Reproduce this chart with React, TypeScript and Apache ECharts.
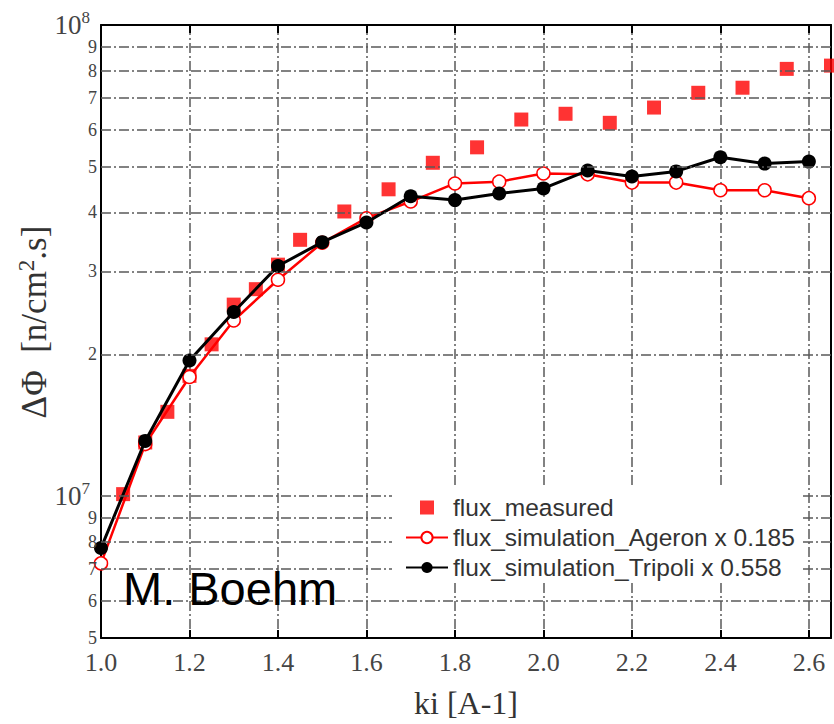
import React, { useEffect, useRef } from "react";
import * as echarts from "echarts";

// ki values for simulations
const kSim = [1.0, 1.1, 1.2, 1.3, 1.4, 1.5, 1.6, 1.7, 1.8, 1.9, 2.0, 2.1, 2.2, 2.3, 2.4, 2.5, 2.6];
const ageron = [7.2e6, 1.29e7, 1.79e7, 2.36e7, 2.88e7, 3.45e7, 3.89e7, 4.22e7, 4.61e7, 4.65e7, 4.84e7, 4.82e7, 4.63e7, 4.63e7, 4.46e7, 4.46e7, 4.29e7];
const tripoli = [7.76e6, 1.31e7, 1.94e7, 2.46e7, 3.08e7, 3.46e7, 3.81e7, 4.33e7, 4.25e7, 4.39e7, 4.5e7, 4.91e7, 4.77e7, 4.89e7, 5.24e7, 5.08e7, 5.13e7];

// measured flux
const kMeasured = [1.05, 1.1, 1.15, 1.2, 1.25, 1.3, 1.35, 1.4, 1.45, 1.55, 1.65, 1.75, 1.85, 1.95, 2.05, 2.15, 2.25, 2.35, 2.45, 2.55, 2.65];
const measured = [1.01e7, 1.3e7, 1.51e7, 1.8e7, 2.1e7, 2.55e7, 2.75e7, 3.1e7, 3.5e7, 4.02e7, 4.48e7, 5.1e7, 5.5e7, 6.3e7, 6.48e7, 6.2e7, 6.68e7, 7.18e7, 7.36e7, 8.07e7, 8.2e7];

// y-axis (log) tick values and labels
const yTickValues = [5e6, 6e6, 7e6, 8e6, 9e6, 1e7, 2e7, 3e7, 4e7, 5e7, 6e7, 7e7, 8e7, 9e7, 1e8];
const yTickLabels = ["5", "6", "7", "8", "9", "{big|10}{sup|7}", "2", "3", "4", "5", "6", "7", "8", "9", "{big|10}{sup|8}"];

const seriesNames = [
  "flux_measured",
  "flux_simulation_Ageron x 0.185",
  "flux_simulation_Tripoli x 0.558",
];

const SERIF = '"Liberation Serif", "Times New Roman", serif';
const SANS = '"Liberation Sans", Arial, Helvetica, sans-serif';
const DASH = [10, 3, 2, 3];

export default function App() {
  const ref = useRef<HTMLDivElement>(null);
  useEffect(() => {
    if (!ref.current) return;
    const chart = echarts.init(ref.current, null, { renderer: "svg" });
    const xMin = 1.0, xMax = 2.65, yMin = 5e6, yMax = 1e8;
    const gridLineStyle = { color: "#5a5a5a", width: 1.5, type: DASH };
    chart.setOption({
      animation: false,
      backgroundColor: "#ffffff",
      grid: { left: 101, right: 3, top: 25, bottom: 84 },
      xAxis: [
        {
          type: "value", min: xMin, max: xMax, interval: 0.2, position: "bottom",
          axisLine: { show: true, lineStyle: { color: "#000", width: 2 } },
          axisTick: { show: true, inside: true, length: 8, lineStyle: { color: "#000", width: 2 } },
          axisLabel: {
            show: true, showMaxLabel: false, margin: 11, fontSize: 26, fontFamily: SERIF, color: "#444",
            formatter: (v: number) => v.toFixed(1),
          },
          splitLine: { show: true, lineStyle: gridLineStyle },
          name: "ki [A-1]", nameLocation: "middle", nameGap: 49,
          nameTextStyle: { fontSize: 32, fontFamily: SERIF, color: "#333" },
        },
        {
          type: "value", min: xMin, max: xMax, interval: 0.2, position: "top",
          axisLine: { show: true, lineStyle: { color: "#000", width: 2 } },
          axisTick: { show: true, inside: true, length: 8, lineStyle: { color: "#000", width: 2 } },
          axisLabel: { show: false }, splitLine: { show: false },
        },
      ],
      yAxis: [
        {
          type: "log", logBase: 10, min: yMin, max: yMax, position: "left",
          axisLine: { show: true, lineStyle: { color: "#000", width: 2 } },
          axisTick: { show: false }, axisLabel: { show: false }, splitLine: { show: false },
        },
        {
          type: "log", logBase: 10, min: yMin, max: yMax, position: "right",
          axisLine: { show: true, lineStyle: { color: "#000", width: 2 } },
          axisTick: { show: false }, axisLabel: { show: false }, splitLine: { show: false },
        },
      ],
      legend: {
        data: [
          { name: seriesNames[0], icon: "path://M0,0L10,0L10,10L0,10Z" },
          { name: seriesNames[1] },
          { name: seriesNames[2] },
        ],
        orient: "vertical",
        left: 400,
        top: 490,
        z: 10,
        itemWidth: 42,
        itemHeight: 14,
        itemGap: 5,
        symbolKeepAspect: true,
        textStyle: { fontSize: 24.5, fontFamily: SANS, color: "#333" },
      },
      graphic: [
        {
          type: "rect", z: 8, silent: true,
          shape: { x: 392, y: 488, width: 408, height: 94 },
          style: { fill: "#ffffff" },
        },
        {
          type: "text", left: 123, top: 565, silent: true, z: 9,
          style: { text: "M. Boehm", fontSize: 47, fontFamily: SANS, fill: "#000" },
        },
        {
          type: "text", x: 34, y: 322, rotation: Math.PI / 2, silent: true,
          style: {
            text: "{a|ΔΦ  [n/cm}{s|2}{a|.s]}",
            align: "center", verticalAlign: "middle",
            rich: {
              a: { fontSize: 35, fontFamily: SERIF, fill: "#333" },
              s: { fontSize: 23, fontFamily: SERIF, fill: "#333", padding: [0, 0, 16, 0] },
            },
          },
        },
      ],
      series: [
        {
          name: "grid", type: "line", data: [], z: 1, silent: true,
          markLine: {
            silent: true, symbol: ["none", "none"], animation: false,
            lineStyle: gridLineStyle,
            label: {
              show: true, position: "start", distance: 4,
              formatter: (p: any) => p.name,
              fontSize: 18, fontFamily: SERIF, color: "#444",
              rich: {
                big: { fontSize: 27, fontFamily: SERIF, color: "#444" },
                sup: { fontSize: 17, fontFamily: SERIF, color: "#444", padding: [0, 0, 16, 0] },
              },
            },
            data: yTickValues.map((v, i) => ({
              yAxis: v, name: yTickLabels[i],
              label: v === 1e7 || v === 1e8 ? { distance: 11 } : undefined,
              lineStyle: v === yMin || v === yMax ? { color: "rgba(0,0,0,0)" } : undefined,
            })),
          },
        },
        {
          name: seriesNames[0], type: "scatter", z: 2,
          symbol: "rect", symbolSize: 14,
          itemStyle: { color: "#ff0000" },
          data: kMeasured.map((k, i) => [k, measured[i]]),
        },
        {
          name: seriesNames[1], type: "line", z: 3,
          symbol: "circle", symbolSize: 13, showAllSymbol: true,
          lineStyle: { color: "#ff0000", width: 2.5 },
          itemStyle: { color: "#ffffff", borderColor: "#ff0000", borderWidth: 1.5 },
          data: kSim.map((k, i) => [k, ageron[i]]),
        },
        {
          name: seriesNames[2], type: "line", z: 4,
          symbol: "circle", symbolSize: 14, showAllSymbol: true,
          lineStyle: { color: "#000000", width: 3 },
          itemStyle: { color: "#000000" },
          data: kSim.map((k, i) => [k, tripoli[i]]),
        },
      ],
    });
    return () => chart.dispose();
  }, []);
  return (
    <div
      ref={ref}
      style={{ position: "fixed", left: 0, top: 0, width: 834, height: 724, background: "#fff" }}
    />
  );
}
